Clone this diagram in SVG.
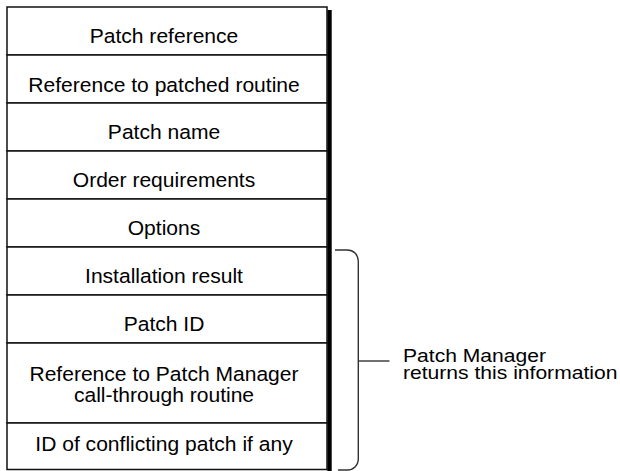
<svg xmlns="http://www.w3.org/2000/svg" width="620" height="471" viewBox="0 0 620 471">
<style>
.row{fill:#fff;stroke:#111;stroke-width:1.5}
.t{font-family:"Liberation Sans",Arial,Helvetica,sans-serif;font-size:19.5px;fill:#000;text-anchor:middle}
.lbl{font-family:"Liberation Sans",Arial,Helvetica,sans-serif;font-size:18.5px;fill:#000;text-anchor:start}
.br{fill:none;stroke:#333;stroke-width:1.4}
</style>
<rect x="0" y="0" width="620" height="471" fill="#fff"/>
<rect id="shadow" x="327.3" y="10" width="4.4" height="461" fill="#000"/>
<g id="row1"><rect class="row" x="7" y="7" width="320" height="48"/><text class="t" transform="translate(164,43.3) scale(1.08,1)">Patch reference</text></g>
<g id="row2"><rect class="row" x="7" y="55" width="320" height="48"/><text class="t" transform="translate(164,91.5) scale(1.08,1)">Reference to patched routine</text></g>
<g id="row3"><rect class="row" x="7" y="103" width="320" height="48"/><text class="t" transform="translate(164,139.4) scale(1.08,1)">Patch name</text></g>
<g id="row4"><rect class="row" x="7" y="151" width="320" height="48"/><text class="t" transform="translate(164,187.4) scale(1.08,1)">Order requirements</text></g>
<g id="row5"><rect class="row" x="7" y="199" width="320" height="48"/><text class="t" transform="translate(164,235.3) scale(1.08,1)">Options</text></g>
<g id="row6"><rect class="row" x="7" y="247" width="320" height="48"/><text class="t" transform="translate(164,283.3) scale(1.08,1)">Installation result</text></g>
<g id="row7"><rect class="row" x="7" y="295" width="320" height="48"/><text class="t" transform="translate(164,331.3) scale(1.08,1)">Patch ID</text></g>
<g id="row8"><rect class="row" x="7" y="343" width="320" height="80"/><text class="t" transform="translate(164,381) scale(1.08,1)">Reference to Patch Manager</text><text class="t" transform="translate(164,402.3) scale(1.08,1)">call-through routine</text></g>
<g id="row9"><rect class="row" x="7" y="423" width="320" height="46.5"/><text class="t" transform="translate(164,450.5) scale(1.08,1)">ID of conflicting patch if any</text></g>
<g id="connectors">
<path class="br" d="M335,250 H347 A11,11 0 0 1 358.3,261 V459 A11,11 0 0 1 347,470 H338"/>
<line class="br" x1="358.3" y1="361" x2="389.5" y2="361"/>
</g>
<g id="label"><text class="lbl" transform="translate(403,361.5) scale(1.14,1)">Patch Manager</text><text class="lbl" transform="translate(403,378.5) scale(1.14,1)">returns this information</text></g>
</svg>
